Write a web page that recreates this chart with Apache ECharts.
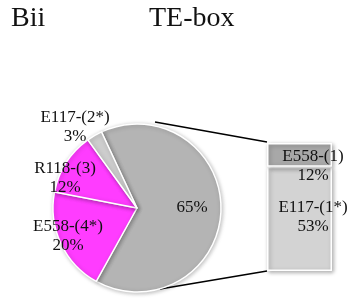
<!DOCTYPE html>
<html><head><meta charset="utf-8">
<script src="https://cdn.jsdelivr.net/npm/echarts@6/dist/echarts.min.js"></script>
<style>html,body{margin:0;padding:0;background:#fff}#c{width:353px;height:298px}</style>
</head><body><div id="c"></div>
<script>
const pieNames = ['', 'E558-(4*)', 'R118-(3)', 'E117-(2*)'];
const pieValues = [65, 20, 12, 3];
const boxNames = ['E117-(1*)', 'E558-(1)'];
const boxValues = [53, 12];
const boxCategory = ['TE-box'];

const pieColors = ['#b4b4b4', '#ff3cff', '#ff3cff', '#cdcdcd'];
const boxColors = ['#d3d3d3', '#a8a8a8'];
const pieLabelPos = [[192, 208], [68, 236], [65, 178], [75, 127]];
const boxLabelPos = [[313, 217], [313, 166]];
const font = '"Liberation Serif", "Times New Roman", serif';

const chart = echarts.init(document.getElementById('c'), null, {renderer: 'canvas'});
const option = {
  animation: false,
  textStyle: {fontFamily: font},
  title: [
    {text: 'Bii', left: 11, top: 5, padding: 0, textStyle: {fontFamily: font, fontWeight: 'normal', fontSize: 28, color: '#111'}},
    {text: 'TE-box', left: 149, top: 5, padding: 0, textStyle: {fontFamily: font, fontWeight: 'normal', fontSize: 28, color: '#111'}}
  ],
  grid: {left: 267, top: 143, width: 65, height: 128},
  xAxis: {type: 'category', data: boxCategory, show: false},
  yAxis: {type: 'value', min: 0, max: 65, show: false},
  graphic: [
    {type: 'line', shape: {x1: 155, y1: 122, x2: 267, y2: 142}, style: {stroke: '#000', lineWidth: 1.6}, z: 1},
    {type: 'line', shape: {x1: 160, y1: 289, x2: 267, y2: 271}, style: {stroke: '#000', lineWidth: 1.6}, z: 1}
  ],
  series: [
    {
      type: 'pie',
      center: [137, 208],
      radius: 84,
      startAngle: 115,
      clockwise: true,
      z: 3,
      data: pieNames.map((n, i) => ({name: n, value: pieValues[i], itemStyle: {color: pieColors[i]}})),
      itemStyle: {borderColor: '#fff', borderWidth: 1.5, shadowBlur: 4, shadowColor: 'rgba(0,0,0,0.25)', shadowOffsetX: 1, shadowOffsetY: 1},
      label: {
        show: true,
        position: 'inside',
        fontFamily: font,
        fontSize: 17,
        lineHeight: 19,
        color: '#111',
        align: 'center',
        formatter: p => (p.name ? p.name + '\n' : '') + p.value + '%'
      },
      labelLine: {show: false},
      labelLayout: p => ({x: pieLabelPos[p.dataIndex][0], y: pieLabelPos[p.dataIndex][1], align: 'center', verticalAlign: 'middle'}),
      emphasis: {disabled: true}
    },
    ...boxNames.map((n, i) => ({
      type: 'bar',
      name: n,
      stack: 'box',
      barWidth: '100%',
      z: 3,
      data: [boxValues[i]],
      itemStyle: {color: boxColors[i], borderColor: '#fff', borderWidth: 1.5, shadowBlur: 4, shadowColor: 'rgba(0,0,0,0.3)', shadowOffsetX: 1.5, shadowOffsetY: 1.5},
      label: {
        show: true,
        fontFamily: font,
        fontSize: 17,
        lineHeight: 19,
        color: '#111',
        formatter: p => p.seriesName + '\n' + p.value + '%'
      },
      labelLayout: () => ({x: boxLabelPos[i][0], y: boxLabelPos[i][1], align: 'center', verticalAlign: 'middle'}),
      emphasis: {disabled: true}
    }))
  ]
};
chart.setOption(option);
</script></body></html>
